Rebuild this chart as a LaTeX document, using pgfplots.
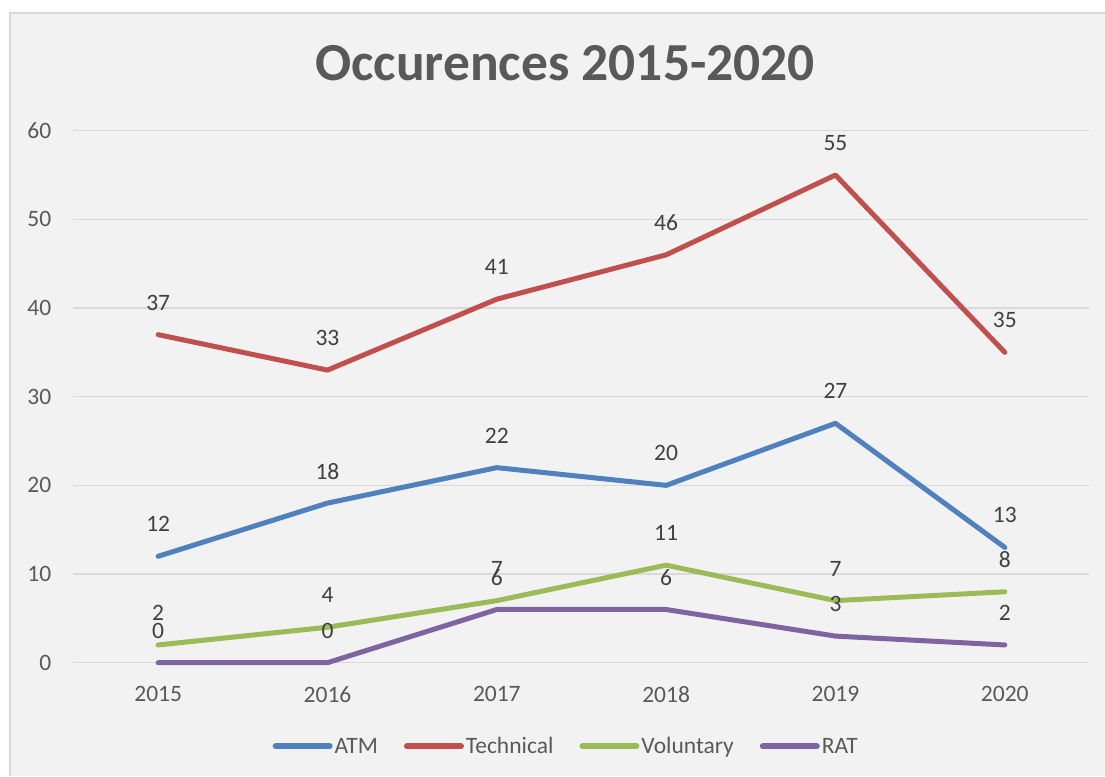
\documentclass[border=0pt]{standalone}
\usepackage{fontspec}
\setmainfont{Carlito}
\usepackage{pgfplots}
\pgfplotsset{compat=1.18}
\definecolor{bgc}{HTML}{F2F2F2}
\definecolor{framec}{HTML}{D9D9D9}
\definecolor{gridc}{HTML}{D9D9D9}
\definecolor{tickc}{HTML}{595959}
\definecolor{titlec}{HTML}{595959}
\definecolor{labelc}{HTML}{404040}
\definecolor{atm}{HTML}{4F81BD}
\definecolor{tech}{HTML}{C0504D}
\definecolor{vol}{HTML}{9BBB59}
\definecolor{rat}{HTML}{8064A2}
\begin{document}
\begin{tikzpicture}
\useasboundingbox (0pt,0pt) rectangle (1105pt,776pt);
\fill[white] (0pt,0pt) rectangle (1105pt,776pt);
\fill[bgc] (10pt,0pt) rectangle (1105pt,763pt);
\draw[framec, line width=1.5pt] (10pt,0pt) -- (10pt,763pt) -- (1105pt,763pt);
\begin{axis}[
  at={(73.5pt,113.3pt)}, anchor=south west,
  scale only axis, width=1016pt, height=532pt,
  xmin=-0.5, xmax=5.5, ymin=0, ymax=60,
  xtick={0,1,2,3,4,5}, xticklabels={2015,2016,2017,2018,2019,2020},
  ytick={0,10,20,30,40,50,60},
  axis line style={draw=none},
  major tick length=0pt,
  ymajorgrids, grid style={gridc, line width=1.5pt},
  tick label style={font=\fontsize{23.5}{27}\selectfont, text=tickc},
  /pgf/number format/assume math mode=true,
  xticklabel style={anchor=center, yshift=-31.5pt, inner sep=0pt},
  yticklabel style={anchor=east, xshift=-22pt, inner sep=0pt},
  title={Occurences 2015-2020},
  title style={at={(0.484,1.116)}, anchor=center, font=\fontsize{53.5}{60}\selectfont\bfseries, text=titlec, inner sep=0pt},
  legend columns=4,
  legend style={at={(0.485,-0.157)}, anchor=center, draw=none, fill=none, font=\fontsize{23.5}{27}\selectfont, text=tickc, /tikz/every even column/.append style={column sep=24pt}},
  legend image code/.code={\draw[#1, line width=6pt, line cap=round] (0pt,0pt) -- (54pt,0pt);},
  every axis plot/.append style={line width=5pt, line join=round, line cap=round},
  nodes near coords,
  every node near coord/.append style={anchor=center, yshift=32pt, font=\fontsize{23.5}{27}\selectfont, text=labelc},
  clip=false,
]
\addplot[atm] coordinates {(0,12) (1,18) (2,22) (3,20) (4,27) (5,13)};
\addlegendentry{ATM}
\addplot[tech] coordinates {(0,37) (1,33) (2,41) (3,46) (4,55) (5,35)};
\addlegendentry{Technical}
\addplot[vol] coordinates {(0,2) (1,4) (2,7) (3,11) (4,7) (5,8)};
\addlegendentry{Voluntary}
\addplot[rat] coordinates {(0,0) (1,0) (2,6) (3,6) (4,3) (5,2)};
\addlegendentry{RAT}
\end{axis}
\end{tikzpicture}
\end{document}
